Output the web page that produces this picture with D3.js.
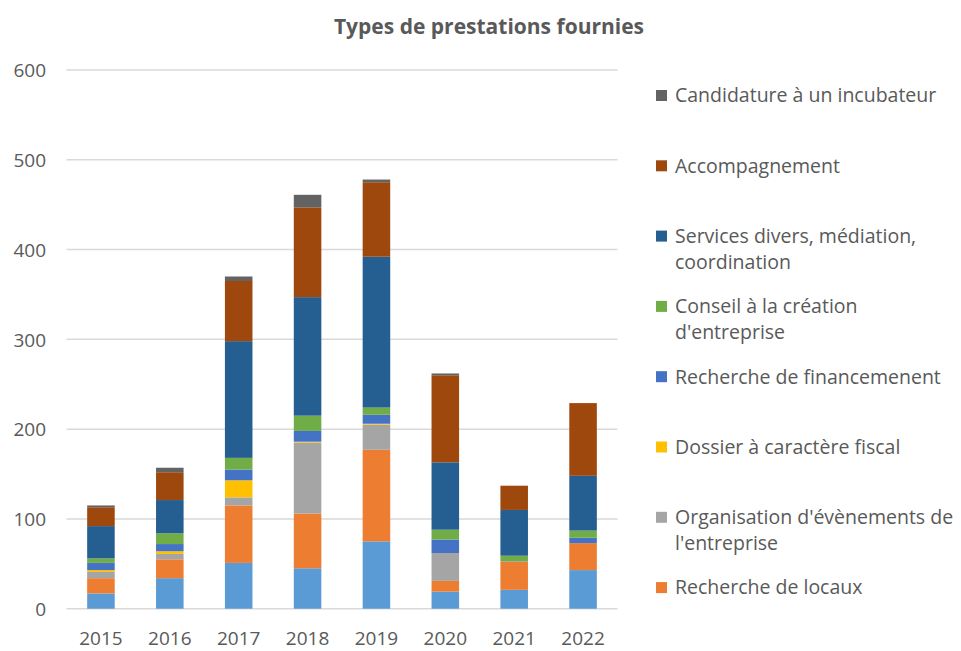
<!DOCTYPE html>
<html>
<head>
<meta charset="utf-8">
<script src="https://cdn.jsdelivr.net/npm/d3@7"></script>
<style>
  body { margin: 0; background: #fff; }
  svg { display: block; font-family: "Open Sans", sans-serif; }
</style>
</head>
<body>
<div id="chart"></div>
<script>
// Data
const years = ["2015", "2016", "2017", "2018", "2019", "2020", "2021", "2022"];

const seriesNames = [
	"Information, orientation",
	"Recherche de locaux",
	"Organisation d'évènements de l'entreprise",
	"Dossier à caractère fiscal",
	"Recherche de financemenent",
	"Conseil à la création d'entreprise",
	"Services divers, médiation, coordination",
	"Accompagnement",
	"Candidature à un incubateur",
];

const seriesColors = [
	"#5b9bd5", "#ed7d31", "#a5a5a5", "#ffc000", "#4472c4",
	"#70ad47", "#255e91", "#9e480e", "#636363",
];

const information = [17, 34, 51, 45, 75, 19, 21, 43];
const locaux = [17, 21, 64, 61, 102, 12, 31, 30];
const evenements = [7, 6, 9, 79, 28, 31, 1, 0];
const fiscal = [2, 3, 19, 1, 1, 0, 0, 0];
const financement = [8, 8, 12, 12, 10, 15, 0, 6];
const conseil = [5, 12, 13, 17, 8, 11, 6, 8];
const services = [36, 37, 130, 132, 168, 75, 51, 61];
const accompagnement = [21, 31, 67, 100, 83, 97, 27, 81];
const candidature = [2, 5, 5, 14, 3, 2, 0, 0];

const yTicks = [0, 100, 200, 300, 400, 500, 600];

// the legend in the reference is cut off: the bottom series is not listed
const legendNames = seriesNames.slice(1).reverse();

const seriesValues = [
	information, locaux, evenements, fiscal, financement,
	conseil, services, accompagnement, candidature,
];

const width = 961;
const height = 651;
const textColor = "#595959";

const table = years.map((year, i) => {
	const row = { year };
	seriesNames.forEach((name, s) => {
		row[name] = seriesValues[s][i];
	});
	return row;
});

const stacked = d3.stack().keys(seriesNames)(table);

const x = d3.scaleBand().domain(years).range([66.5, 617.5]).paddingInner(0.6).paddingOuter(0.3);
const y = d3.scaleLinear().domain([0, 600]).range([608.7, 70]);
const color = d3.scaleOrdinal().domain(seriesNames).range(seriesColors);

const svg = d3
	.select("#chart")
	.append("svg")
	.attr("width", width)
	.attr("height", height);

// Title
svg
	.append("text")
	.attr("x", 489)
	.attr("y", 34)
	.attr("text-anchor", "middle")
	.attr("fill", textColor)
	.style("font-size", "21px")
	.style("font-weight", "bold")
	.text("Types de prestations fournies");

// Gridlines
svg
	.append("g")
	.selectAll("line")
	.data(yTicks)
	.join("line")
	.attr("x1", x.range()[0])
	.attr("x2", x.range()[1])
	.attr("y1", (d) => y(d))
	.attr("y2", (d) => y(d))
	.attr("stroke", "#d9d9d9")
	.attr("stroke-width", 1.5);

// Y axis labels
const yAxis = svg
	.append("g")
	.attr("transform", "translate(46,0)")
	.call(d3.axisLeft(y).tickValues(yTicks).tickSize(0).tickPadding(0));
yAxis.select(".domain").remove();
yAxis
	.selectAll("text")
	.attr("fill", textColor)
	.attr("dy", "0.35em")
	.style("font-family", "'Open Sans', sans-serif")
	.style("font-size", "19px");

// Bars
svg
	.append("g")
	.selectAll("g")
	.data(stacked)
	.join("g")
	.attr("fill", (d) => color(d.key))
	.selectAll("rect")
	.data((d) => d)
	.join("rect")
	.attr("x", (d) => x(d.data.year))
	.attr("width", x.bandwidth())
	.attr("y", (d) => y(d[1]))
	.attr("height", (d) => y(d[0]) - y(d[1]));

// X axis labels
const xAxis = svg
	.append("g")
	.attr("transform", `translate(0,${y(0)})`)
	.call(d3.axisBottom(x).tickSize(0).tickPadding(23));
xAxis.select(".domain").remove();
xAxis
	.selectAll("text")
	.attr("fill", textColor)
	.style("font-family", "'Open Sans', sans-serif")
	.style("font-size", "19px");

// Legend
const legend = svg
	.append("g")
	.selectAll("g")
	.data(legendNames)
	.join("g")
	.attr("transform", (d, i) => `translate(656,${95.5 + i * 70.3})`);

legend
	.append("rect")
	.attr("x", 0)
	.attr("y", -5.5)
	.attr("width", 11)
	.attr("height", 11)
	.attr("fill", (d) => color(d));

const wrapWidth = 285;
legend.each(function (name) {
	const text = d3
		.select(this)
		.append("text")
		.attr("x", 19)
		.attr("y", 0)
		.attr("fill", textColor)
		.style("font-size", "19.5px");
	const words = name.split(" ");
	let line = [];
	let lineNo = 0;
	let tspan = text.append("tspan").attr("x", 19).attr("dy", "0.35em");
	words.forEach((word) => {
		line.push(word);
		tspan.text(line.join(" "));
		if (tspan.node().getComputedTextLength() > wrapWidth && line.length > 1) {
			line.pop();
			tspan.text(line.join(" "));
			line = [word];
			lineNo += 1;
			tspan = text
				.append("tspan")
				.attr("x", 19)
				.attr("y", lineNo * 26)
				.attr("dy", "0.35em")
				.text(word);
		}
	});
});
</script>
</body>
</html>
